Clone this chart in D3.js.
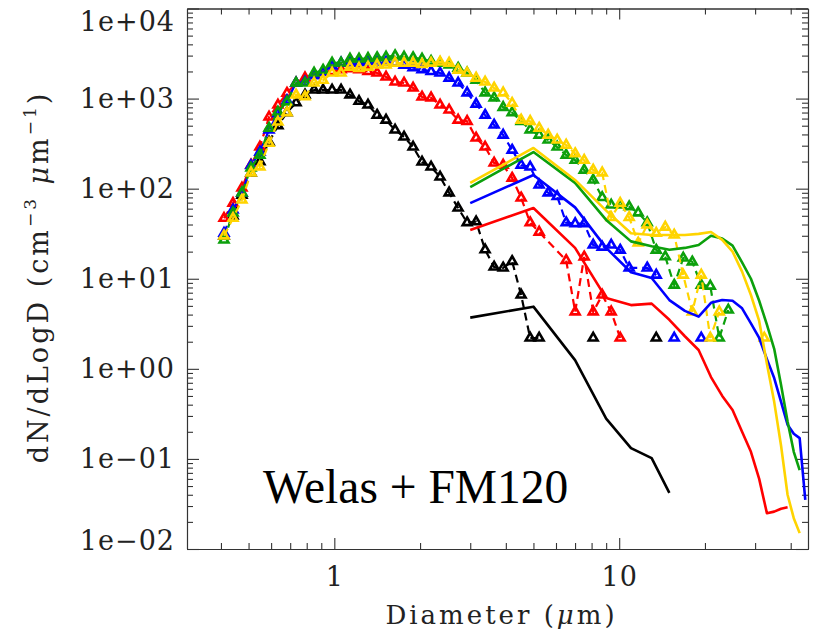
<!DOCTYPE html>
<html>
<head>
<meta charset="utf-8">
<title>Welas + FM120</title>
<script src="https://cdn.jsdelivr.net/npm/d3@7"></script>
<style>
  html, body { margin: 0; padding: 0; background: #fff; }
  svg { display: block; }
</style>
</head>
<body>
<div id="chart"></div>
<script>

//  Welas channel centres (um)
const welasDiam = [0.410, 0.441, 0.474, 0.510, 0.548, 0.590, 0.634, 0.682, 0.734, 0.789,
  0.849, 0.913, 0.982, 1.056, 1.135, 1.221, 1.313, 1.413, 1.519, 1.634,
  1.757, 1.890, 2.032, 2.186, 2.351, 2.529, 2.720, 2.925, 3.146, 3.383,
  3.639, 3.914, 4.209, 4.527, 4.869, 5.236, 5.632, 6.057, 6.514, 7.006,
  7.535, 8.104, 8.716, 9.374, 10.08, 10.84, 11.66, 12.54, 13.49, 14.51,
  15.60, 16.78, 18.05, 19.41, 20.88, 22.45, 24.15, 25.97, 27.93, 30.04, 32.31];

//  Welas dN/dlogD per channel  (0 = empty channel, null = hidden point, line goes on)
const welasBlack = [30, 50, 85, 150, 200, 330, 500, 700, 900, 1100,
  1245, 1245, 1245, 1245, 1100, 935, 850, 655, 578, 448,
  375, 290, 198, 174, 135, 90, 61, 42, 43, 21,
  13.5, 13.2, 15.6, 6.6, 2.2, 2.2, 0, 0, 0, 0,
  0, 2.2, 0, 0, 0, 0, 0, 0, 2.2];
const welasRed = [47, 69, 102, 183, 290, 625, 850, 1150, 1490, 1700,
  1850, 1950, 2000, 2100, 2150, 2100, 2000, 1925, 1738, 1528,
  1490, 1311, 1042, 1020, 849, 747, 578, 560, 365, 290,
  193, 183, 131, 79, 42, 33, null, null, 16, 4.3,
  17.5, 4.3, 6.6, 4.3, 2.2];
const welasBlue = [32, 58, 89, 181, 255, 450, 680, 950, 1490, 1528,
  1800, 1960, 2300, 2480, 2480, 2500, 2550, 2550, 2550, 2480,
  2350, 2200, 2100, 2000, 1925, 1690, 1490, 1160, 870, 655,
  510, 394, 268, 183, 174, 110, 90, 82, 42, 41,
  41, 23.7, 22.5, 23.7, 20.8, 13.2, null, 13.2, 11, 0,
  2.2, 0, 0, 2.2];
const welasGreen = [27, 54, 90, 170, 236, 470, 710, 920, 1490, 1490,
  1925, 2070, 2490, 2490, 2750, 2750, 2800, 2850, 2900, 3000,
  2900, 2850, 2750, 2600, 2480, 2360, 2180, 1925, 1600, 1160,
  1020, 800, 700, 560, 450, 394, 347, 290, 236, 207,
  161, 125, 80, 66, 66, 63, 54, 42, 20.8, 17.6,
  8.5, 17, 15.4, 8.5, 8.3, 2.2, 4.5];
const welasYellow = [30, 47, 75, 150, 175, 320, 550, 700, 1100, 1050,
  1490, 1600, 1925, 1925, 2240, 2170, 2240, 2360, 2360, 2480,
  2480, 2480, 2400, 2480, 2550, 2480, 2075, 1925, 1690, 1528,
  1311, 1160, 890, 578, 560, 470, 394, 347, 305, 245,
  207, 161, 150, 48, 69, 48, 25, 39.5, 32, 37.5,
  30.6, 11, 4.3, 11, 2.2, 4.3, 0, 0, 0, 0, 2.2];

//  FM120 bin centres (um) and dN/dlogD
const fmDiam   = [3, 5, 7, 9, 11, 13, 15, 17, 19, 21, 23, 25, 27, 29, 31, 33, 35, 37, 39, 41, 43, 45];
const fmBlack  = [3.7, 4.9, 1.25, 0.28, 0.132, 0.102, 0.042];
const fmRed    = [34.8, 61, 22, 6.1, 5.1, 5.3, 3.5, 2.3, 1.62, 0.81, 0.5, 0.35, 0.2, 0.12, 0.06,
  0.025, 0.026, 0.028, 0.029];
const fmBlue   = [69, 142, 62, 22, 11.8, 10.2, 5.8, 4.4, 3.8, 5.4, 5.8, 5.7, 4.7, 3.2, 2.2,
  1.28, 0.79, 0.43, 0.24, 0.19, 0.17, 0.035];
const fmGreen  = [104, 255, 116, 45, 26, 23, 21, 22, 23.7, 30, 28, 23.3, 15.2, 10, 5.7,
  3.1, 1.67, 0.66, 0.26, 0.12, 0.075];
const fmYellow = [116, 283, 125, 57, 32, 30.6, 30.6, 30.6, 31.5, 33, 27, 20, 12, 6.6, 3.4,
  1.14, 0.43, 0.14, 0.04, 0.022, 0.015];

//  axes
const xMajorTicks = [1, 10];
const xMinorTicks = [0.4, 0.5, 0.6, 0.7, 0.8, 0.9, 2, 3, 4, 5, 6, 7, 8, 9, 20, 30, 40];
const yMajorTicks = [1e-2, 1e-1, 1e0, 1e1, 1e2, 1e3, 1e4];
const yTickLabels = ["1e\u221202", "1e\u221201", "1e+00", "1e+01", "1e+02", "1e+03", "1e+04"];

const colors = { black: "#000000", red: "#ff0000", blue: "#0000ff", green: "#0ca00c", yellow: "#ffd400" };

const welas = [
  { c: colors.black,  v: welasBlack },
  { c: colors.red,    v: welasRed },
  { c: colors.blue,   v: welasBlue },
  { c: colors.green,  v: welasGreen },
  { c: colors.yellow, v: welasYellow }
];
const fm = [
  { c: colors.black,  v: fmBlack },
  { c: colors.red,    v: fmRed },
  { c: colors.blue,   v: fmBlue },
  { c: colors.green,  v: fmGreen },
  { c: colors.yellow, v: fmYellow }
];

const W = 815, H = 631;
const plot = { left: 187, right: 808, top: 8.5, bottom: 549 };

const svg = d3.select("#chart")
  .append("svg")
    .attr("width", W)
    .attr("height", H)
    .style("font-family", "'DejaVu Serif', serif");

const x = d3.scaleLog().domain([0.304, 46]).range([plot.left, plot.right]);
const y = d3.scaleLog().domain([0.01, 1e4]).range([plot.bottom, plot.top]);
const yMinorTicks = y.ticks().filter(t => !yMajorTicks.some(m => Math.abs(m - t) / m < 1e-6));

//  frame + ticks on all four sides, pointing inward
function axis(gen, tr, vals, len, fmt, pad) {
  const g = svg.append("g")
    .attr("transform", tr)
    .call(gen.tickValues(vals).tickSize(-len).tickSizeOuter(0)
      .tickFormat(fmt || "").tickPadding(pad || 3));
  g.selectAll("line, path").attr("stroke", "#333").attr("stroke-width", 1.1);
  g.selectAll("text").attr("fill", "#222").style("font-size", "27px")
    .style("font-family", "'DejaVu Serif', serif").style("letter-spacing", "1px");
  return g;
}

axis(d3.axisBottom(x), `translate(0,${plot.bottom})`, xMinorTicks, 6);
axis(d3.axisBottom(x), `translate(0,${plot.bottom})`, xMajorTicks, 11, d3.format("d"), 18);
axis(d3.axisTop(x), `translate(0,${plot.top})`, xMinorTicks, 6);
axis(d3.axisTop(x), `translate(0,${plot.top})`, xMajorTicks, 11);

axis(d3.axisLeft(y), `translate(${plot.left},0)`, yMinorTicks, 6);
const yAx = axis(d3.axisLeft(y), `translate(${plot.left},0)`, yMajorTicks, 12,
  d => yTickLabels[yMajorTicks.indexOf(d)], 12);
axis(d3.axisRight(y), `translate(${plot.right},0)`, yMinorTicks, 6);
axis(d3.axisRight(y), `translate(${plot.right},0)`, yMajorTicks, 12);

// end labels are pulled inside the frame
yAx.selectAll(".tick text")
  .attr("transform", d => d === 1e4 ? "translate(0,13)" : d === 1e-2 ? "translate(0,-8)" : null);

//  clip to the frame
svg.append("clipPath").attr("id", "clip")
  .append("rect")
    .attr("x", plot.left).attr("y", plot.top)
    .attr("width", plot.right - plot.left).attr("height", plot.bottom - plot.top);

const data = svg.append("g").attr("clip-path", "url(#clip)");

//  Welas: dashed line + open triangles
const dashed = d3.line()
  .defined(p => p.v > 0)
  .x(p => x(p.d))
  .y(p => y(p.v));
const tri = d3.symbol().type(d3.symbolTriangle).size(34);

welas.forEach(s => {
  const pts = s.v.map((v, i) => ({ d: welasDiam[i], v }))
    .filter(p => p.v !== null && p.v !== undefined);
  data.append("path")
    .datum(pts)
    .attr("d", dashed)
    .attr("fill", "none")
    .attr("stroke", s.c)
    .attr("stroke-width", 2.2)
    .attr("stroke-dasharray", "8,5");
  data.append("g")
    .selectAll("path")
    .data(pts.filter(p => p.v > 0))
    .join("path")
      .attr("transform", p => `translate(${x(p.d)},${y(p.v)})`)
      .attr("d", tri)
      .attr("fill", "none")
      .attr("stroke", s.c)
      .attr("stroke-width", 2.6)
      .attr("stroke-linejoin", "miter");
});

//  FM120: solid lines
const solid = d3.line()
  .x((v, i) => x(fmDiam[i]))
  .y(v => y(v));

fm.forEach(s => {
  data.append("path")
    .datum(s.v)
    .attr("d", solid)
    .attr("fill", "none")
    .attr("stroke", s.c)
    .attr("stroke-width", 2.6)
    .attr("stroke-linejoin", "round");
});

//  axis titles
svg.append("text")
  .attr("x", (plot.left + plot.right) / 2 + 4)
  .attr("y", 624)
  .attr("text-anchor", "middle")
  .attr("fill", "#222")
  .style("font-size", "26px")
  .style("letter-spacing", "3px")
  .call(t => {
    t.append("tspan").text("Diameter (");
    t.append("tspan").style("font-style", "italic").text("\u03bc");
    t.append("tspan").text("m)");
  });

svg.append("text")
  .attr("transform", "translate(47.5,277) rotate(-90)")
  .attr("text-anchor", "middle")
  .attr("fill", "#222")
  .style("font-size", "27px")
  .style("letter-spacing", "3px")
  .call(t => {
    t.append("tspan").text("dN/dLogD (cm");
    t.append("tspan").attr("dy", -12).style("font-size", "17px").text("\u22123");
    t.append("tspan").attr("dy", 12).text(" ");
    t.append("tspan").style("font-style", "italic").text("\u03bc");
    t.append("tspan").text("m");
    t.append("tspan").attr("dy", -12).style("font-size", "17px").text("\u22121");
    t.append("tspan").attr("dy", 12).text(")");
  });

//  panel label
svg.append("text")
  .attr("x", 263)
  .attr("y", 503)
  .attr("fill", "#000")
  .style("font-family", "'Liberation Serif', 'Times New Roman', serif")
  .style("font-size", "47.5px")
  .text("Welas + FM120");

</script>
</body>
</html>
